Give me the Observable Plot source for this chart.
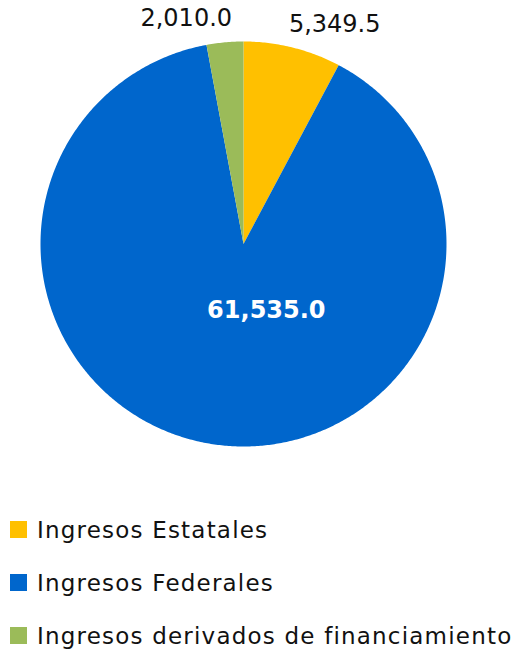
<!DOCTYPE html>
<html>
<head>
<meta charset="utf-8">
<script src="https://cdn.jsdelivr.net/npm/d3@7"></script>
<script src="https://cdn.jsdelivr.net/npm/@observablehq/plot@0.6"></script>
<style>
  body { margin: 0; background: #fff; font-family: "DejaVu Sans", sans-serif; }
  #chart svg { display: block; }
  #legend { margin-top: 33px; padding-left: 10px; }
  .row { display: flex; align-items: center; height: 53px; font-size: 23px; letter-spacing: 1.2px; color: #111; }
  .sw { width: 17px; height: 17px; margin-right: 10px; flex: none; }
</style>
</head>
<body>
<div id="chart"></div>
<div id="legend"></div>
<script>
const categories = ["Ingresos Estatales", "Ingresos Federales", "Ingresos derivados de financiamiento"];
const values = [5349.5, 61535.0, 2010.0];
const colors = ["#FFC000", "#0066CC", "#9BBB59"];

const total = d3.sum(values);
const slices = [];
let start = 0;
categories.forEach((c, i) => {
  const a0 = start, a1 = start + values[i] / total * 2 * Math.PI;
  slices.push({name: c, value: values[i], a0, a1, mid: (a0 + a1) / 2});
  start = a1;
});

// polygon vertices for each slice (angle measured clockwise from top)
const pts = [];
for (const s of slices) {
  pts.push({name: s.name, x: 0, y: 0});
  const n = Math.max(2, Math.ceil((s.a1 - s.a0) / (Math.PI / 360)));
  for (let k = 0; k <= n; k++) {
    const a = s.a0 + (s.a1 - s.a0) * k / n;
    pts.push({name: s.name, x: Math.sin(a), y: Math.cos(a)});
  }
  pts.push({name: s.name, x: 0, y: 0});
}

const fmt = d3.format(",.1f");
const outside = slices.filter(s => s.value / total < 0.5).map(s => ({
  label: fmt(s.value),
  x: 1.115 * Math.sin(s.mid) + Math.sign(Math.sin(s.mid)) * 0.18,
  y: 1.12 * Math.cos(s.mid)
}));
const inside = slices.filter(s => s.value / total >= 0.5).map(s => ({
  label: fmt(s.value),
  x: 0.33 * Math.sin(s.mid),
  y: 0.33 * Math.cos(s.mid)
}));

const chart = Plot.plot({
  width: 516,
  height: 470,
  marginLeft: 40,
  marginRight: 70,
  marginTop: 41,
  marginBottom: 24,
  x: {domain: [-1, 1], axis: null},
  y: {domain: [-1, 1], axis: null},
  color: {domain: categories, range: colors},
  style: {fontFamily: "DejaVu Sans, sans-serif", overflow: "visible"},
  marks: [
    Plot.line(pts, {x: "x", y: "y", z: "name", fill: "name", stroke: null, curve: "linear"}),
    Plot.text(outside, {x: "x", y: "y", text: "label", fontSize: 24, fill: "#111", style: "letter-spacing:0.5px"}),
    Plot.text(inside, {x: "x", y: "y", text: "label", fontSize: 24, fill: "#fff", fontWeight: "bold", dx: 33})
  ]
});
document.getElementById("chart").append(chart);

const legend = document.getElementById("legend");
categories.forEach((c, i) => {
  const row = document.createElement("div");
  row.className = "row";
  const sw = document.createElement("span");
  sw.className = "sw";
  sw.style.background = colors[i];
  const t = document.createElement("span");
  t.textContent = c;
  row.append(sw, t);
  legend.append(row);
});
</script>
</body>
</html>
